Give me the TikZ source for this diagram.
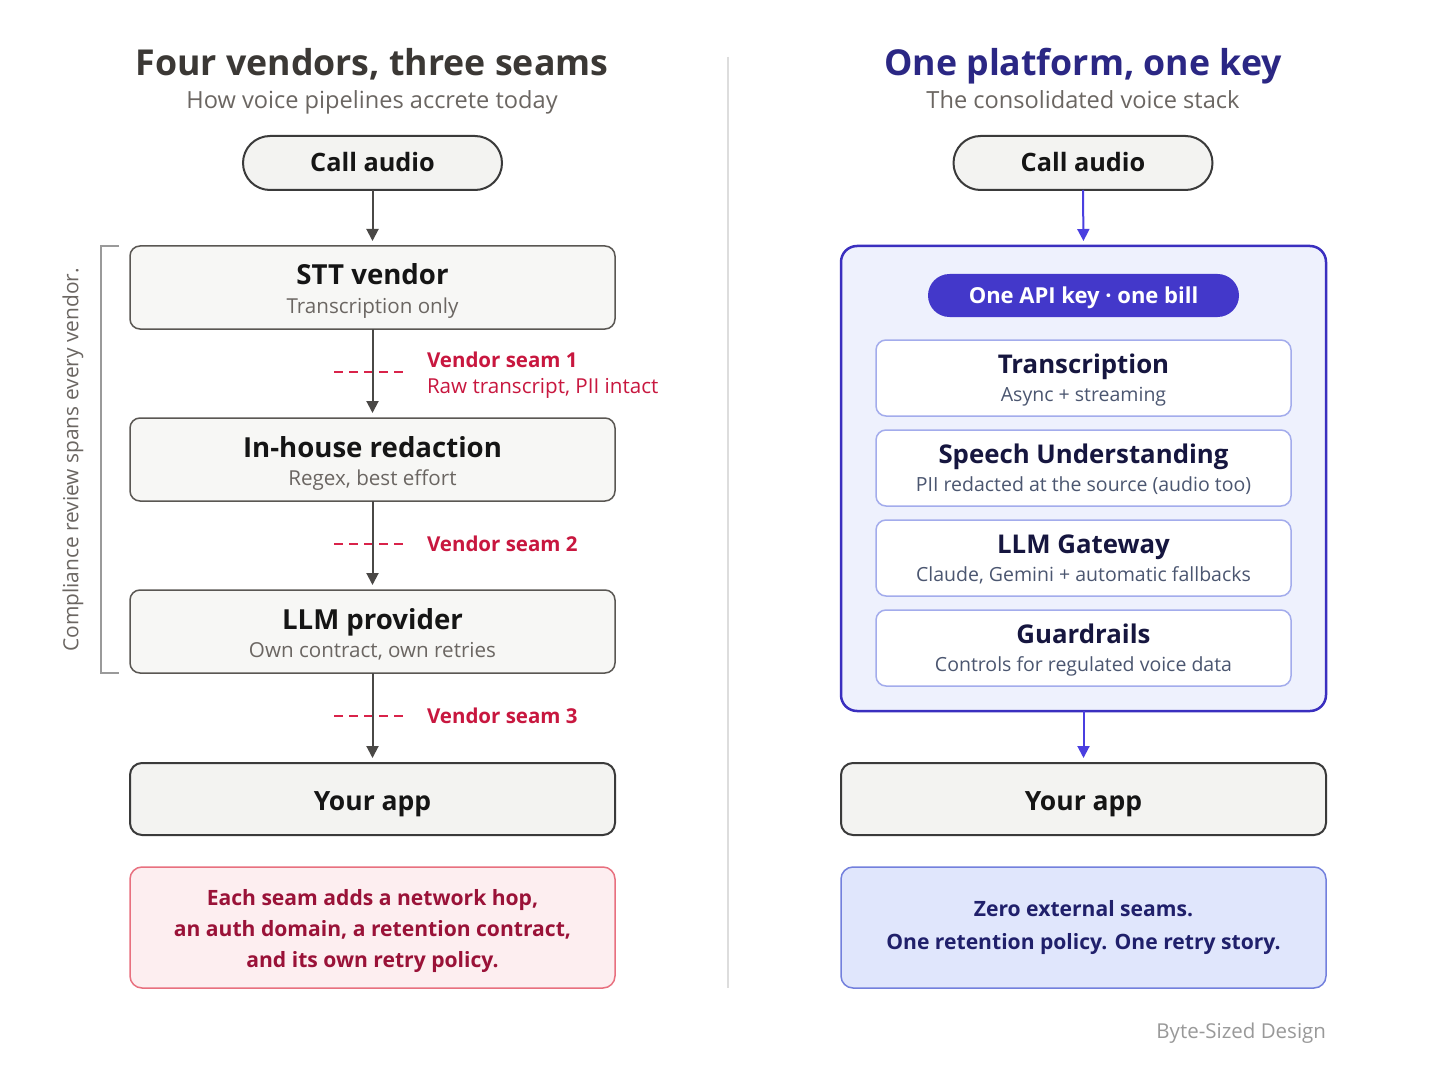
\documentclass[tikz,border=0pt]{standalone}
\usepackage{fontspec}
\setmainfont{Open Sans}
\usetikzlibrary{arrows.meta}
\definecolor{ttlL}{HTML}{3B3835}
\definecolor{subG}{HTML}{6B6662}
\definecolor{darkT}{HTML}{151515}
\definecolor{boxS}{HTML}{5A5753}
\definecolor{boxF}{HTML}{F7F7F5}
\definecolor{pillF}{HTML}{F3F3F1}
\definecolor{pillS}{HTML}{3A3A3A}
\definecolor{arrG}{HTML}{4A4846}
\definecolor{redL}{HTML}{C8173F}
\definecolor{redD}{HTML}{D9234A}
\definecolor{noteRF}{HTML}{FDEEF0}
\definecolor{noteRS}{HTML}{E8707F}
\definecolor{noteRT}{HTML}{9A1238}
\definecolor{indT}{HTML}{2B2784}
\definecolor{blueA}{HTML}{4A3FE0}
\definecolor{contF}{HTML}{EEF1FD}
\definecolor{contS}{HTML}{3A2FBF}
\definecolor{apiF}{HTML}{4338CA}
\definecolor{innS}{HTML}{A3ACEC}
\definecolor{innT}{HTML}{16163F}
\definecolor{innSub}{HTML}{4B5670}
\definecolor{noteBF}{HTML}{E0E6FC}
\definecolor{noteBS}{HTML}{7380DD}
\definecolor{noteBT}{HTML}{20206B}
\definecolor{footG}{HTML}{999999}
\definecolor{divG}{HTML}{DDDDDD}
\definecolor{brkG}{HTML}{9A9A9A}
\newcommand{\fsz}[1]{\fontsize{#1}{#1}\selectfont}
\begin{document}
\begin{tikzpicture}[x=1pt,y=-1pt,
  every node/.style={inner sep=0pt,outer sep=0pt},
  hdr/.style={anchor=base,font=\fsz{35.7}\bfseries},
  subhdr/.style={anchor=base,font=\fsz{23.6},text=subG},
  pillbox/.style={draw=pillS,line width=2pt,fill=pillF,rounded corners=27pt,minimum width=259pt,minimum height=54pt},
  pilltxt/.style={anchor=base,font=\fsz{25.3}\bfseries,text=darkT},
  grbox/.style={draw=boxS,line width=1.5pt,fill=boxF,rounded corners=10pt,minimum width=485pt,minimum height=83pt},
  appbox/.style={draw=pillS,line width=2pt,fill=pillF,rounded corners=12pt,minimum width=485pt,minimum height=72pt},
  btitle/.style={anchor=base,font=\fsz{27.6}\bfseries,text=darkT},
  bsub/.style={anchor=base,font=\fsz{20.6},text=subG},
  arrL/.style={draw=arrG,line width=2pt,-{Triangle[length=12pt,width=12pt]}},
  arrB/.style={draw=blueA,line width=2pt,-{Triangle[length=12pt,width=12pt]}},
  seamline/.style={draw=redD,line width=2.8pt,dash pattern=on 9pt off 6pt},
  seamlbl/.style={anchor=base west,font=\fsz{20.5}\bfseries,text=redL},
  seamsub/.style={anchor=base west,font=\fsz{20.6},text=redL},
  notetxtR/.style={anchor=base,font=\fsz{21.1}\bfseries,text=noteRT},
  notetxtB/.style={anchor=base,font=\fsz{21.1}\bfseries,text=noteBT},
  innbox/.style={draw=innS,line width=1.5pt,fill=white,rounded corners=10pt,minimum width=415pt,minimum height=76pt},
  inntitle/.style={anchor=base,font=\fsz{25.8}\bfseries,text=innT},
  innsubt/.style={anchor=base,font=\fsz{19.5},text=innSub}
]
\useasboundingbox (0,0) rectangle (1456,1075);
\fill[white] (0,0) rectangle (1456,1075);

% divider
\coordinate (divtop) at (728,57);
\coordinate (divbot) at (728,988);
\draw[divG,line width=1.2pt] (divtop) -- (divbot);

% ================= LEFT =================
\node[hdr,text=ttlL] (ltitle) at (372,76) {Four vendors, three seams};
\node[subhdr] (lsub) at (372,109) {How voice pipelines accrete today};

\node[pillbox] (lcall) at (372.5,163) {};
\node[pilltxt] (lcallT) at (372.5,172) {Call audio};

\node[grbox] (stt) at (372.5,287.5) {};
\node[btitle] (sttT) at (372.5,285) {STT vendor};
\node[bsub] (sttS) at (372.5,313) {Transcription only};

\node[grbox] (red) at (372.5,459.5) {};
\node[btitle] (redT) at (372.5,457) {In-house redaction};
\node[bsub] (redS) at (372.5,485) {Regex, best effort};

\node[grbox] (llm) at (372.5,631.5) {};
\node[btitle] (llmT) at (372.5,629) {LLM provider};
\node[bsub] (llmS) at (372.5,657) {Own contract, own retries};

\node[appbox] (lapp) at (372.5,799) {};
\node[btitle,font=\fsz{26.5}\bfseries] (lappT) at (372.5,810) {Your app};

% seams
\coordinate (s1a) at (334,372); \coordinate (s1b) at (406,372);
\coordinate (s2a) at (334,544); \coordinate (s2b) at (406,544);
\coordinate (s3a) at (334,716); \coordinate (s3b) at (406,716);
\draw[seamline] (s1a) -- (s1b);
\draw[seamline] (s2a) -- (s2b);
\draw[seamline] (s3a) -- (s3b);
\node[seamlbl] (s1l) at (427,367) {Vendor seam 1};
\node[seamsub] (s1s) at (427,393) {Raw transcript, PII intact};
\node[seamlbl] (s2l) at (427,551) {Vendor seam 2};
\node[seamlbl] (s3l) at (427,723) {Vendor seam 3};

% arrows left
\draw[arrL,shorten >=5pt] (lcall.south) -- (stt.north);
\draw[arrL,shorten >=5pt] (stt.south) -- (red.north);
\draw[arrL,shorten >=5pt] (red.south) -- (llm.north);
\draw[arrL,shorten >=5pt] (llm.south) -- (lapp.north);

% bracket
\coordinate (bk1) at (119,246); \coordinate (bk2) at (101,246);
\coordinate (bk3) at (101,673); \coordinate (bk4) at (119,673);
\draw[brkG,line width=1.5pt] (bk1) -- (bk2) -- (bk3) -- (bk4);
\node[rotate=90,font=\fsz{20.9},text=subG] (comp) at (73,460) {Compliance review spans every vendor.};

% note left
\node[draw=noteRS,line width=1.5pt,fill=noteRF,rounded corners=12pt,minimum width=485pt,minimum height=121pt] (lnote) at (372.5,927.5) {};
\node[notetxtR] (ln1) at (372.5,905) {Each seam adds a network hop,};
\node[notetxtR] (ln2) at (372.5,936) {an auth domain, a retention contract,};
\node[notetxtR] (ln3) at (372.5,967) {and its own retry policy.};

% ================= RIGHT =================
\node[hdr,text=indT] (rtitle) at (1083,76) {One platform, one key};
\node[subhdr] (rsub) at (1083,109) {The consolidated voice stack};

\node[pillbox] (rcall) at (1083,163) {};
\node[pilltxt] (rcallT) at (1083,172) {Call audio};

\node[draw=contS,line width=2.5pt,fill=contF,rounded corners=16pt,minimum width=485pt,minimum height=465pt] (cont) at (1083.5,478.5) {};

\node[fill=apiF,rounded corners=21.5pt,minimum width=311pt,minimum height=43pt] (api) at (1083.5,295.5) {};
\node[anchor=base,font=\fsz{22}\bfseries,text=white] (apiT) at (1083.5,304) {One API key · one bill};

\node[innbox] (tr) at (1083.5,378) {};
\node[inntitle] (trT) at (1083.5,373) {Transcription};
\node[innsubt] (trS) at (1083.5,401.5) {Async + streaming};

\node[innbox] (su) at (1083.5,468) {};
\node[inntitle] (suT) at (1083.5,463) {Speech Understanding};
\node[innsubt] (suS) at (1083.5,491.5) {PII redacted at the source (audio too)};

\node[innbox] (gw) at (1083.5,558) {};
\node[inntitle] (gwT) at (1083.5,553) {LLM Gateway};
\node[innsubt] (gwS) at (1083.5,581.5) {Claude, Gemini + automatic fallbacks};

\node[innbox] (gr) at (1083.5,648) {};
\node[inntitle] (grT) at (1083.5,643) {Guardrails};
\node[innsubt] (grS) at (1083.5,671.5) {Controls for regulated voice data};

\node[appbox] (rapp) at (1083.5,799) {};
\node[btitle,font=\fsz{26.5}\bfseries] (rappT) at (1083.5,810) {Your app};

\draw[arrB,shorten >=5pt] (rcall.south) -- (cont.north);
\draw[arrB,shorten >=5pt] (cont.south) -- (rapp.north);

\node[draw=noteBS,line width=1.5pt,fill=noteBF,rounded corners=12pt,minimum width=485pt,minimum height=121pt] (rnote) at (1083.5,927.5) {};
\node[notetxtB] (rn1) at (1083.5,916) {Zero external seams.};
\node[notetxtB] (rn2) at (1083.5,949) {One retention policy. One retry story.};

\node[anchor=base east,font=\fsz{20.5},text=footG] (foot) at (1326,1038) {Byte-Sized Design};
\end{tikzpicture}
\end{document}
